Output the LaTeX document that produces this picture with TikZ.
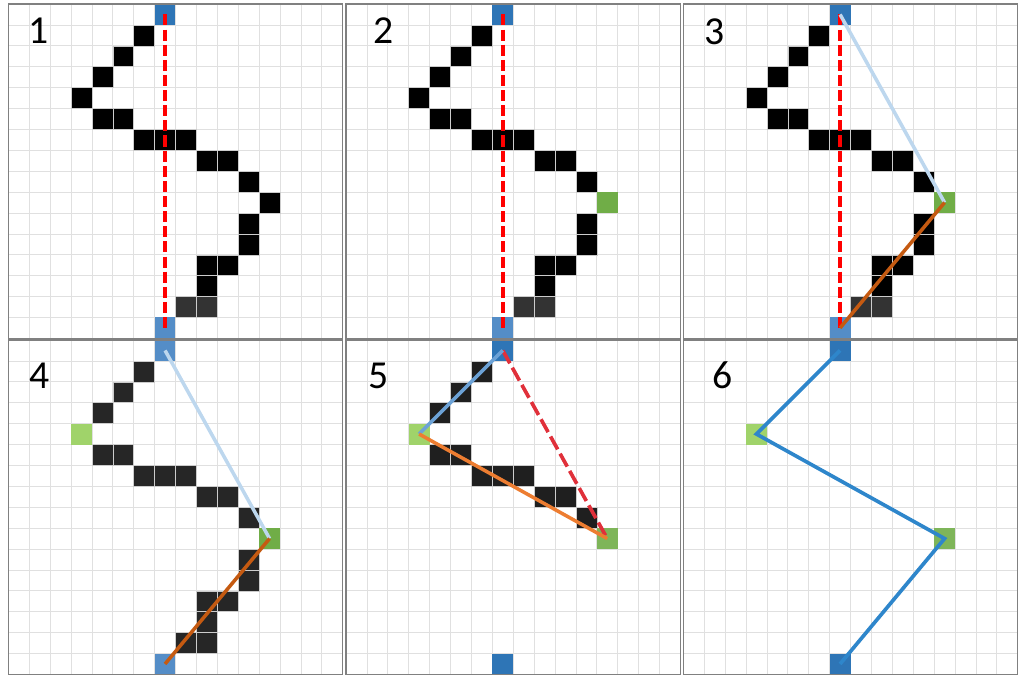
\documentclass[tikz,border=0pt]{standalone}
\usepackage{fontspec}
\setmainfont{Carlito}

\definecolor{cellblue}{RGB}{46,117,182}
\definecolor{cellbluelt}{RGB}{84,141,199}
\definecolor{cellgreen}{RGB}{112,173,71}
\definecolor{cellgreenlt}{RGB}{160,211,106}
\definecolor{gridgray}{RGB}{224,224,224}
\definecolor{framegray}{RGB}{128,128,128}
\definecolor{chordred}{RGB}{255,0,0}
\definecolor{chordred5}{RGB}{224,48,58}
\definecolor{paleblue}{RGB}{189,215,238}
\definecolor{brownseg}{RGB}{197,90,17}
\definecolor{midblue}{RGB}{108,162,214}
\definecolor{orangeseg}{RGB}{237,125,49}
\definecolor{pathblue}{RGB}{46,134,203}

% black cells of the contour, split at the two turning cells
\newcommand{\upperpart}{6/1,5/2,4/3,4/5,5/5,6/6,7/6,8/6,9/7,10/7,11/8}
\newcommand{\lowerpart}{11/10,11/11,9/12,10/12,9/13}
\newcommand{\panelgrid}{%
  \foreach \i in {1,...,15} {
    \draw[gridline] (\i,0) -- (\i,16);
    \draw[gridline] (0,\i) -- (16,\i);
  }%
}

\begin{document}
\begin{tikzpicture}[x=0.5cm, y=-0.5cm,
    cell/.style={rectangle, inner sep=0pt, minimum size=0.5cm, draw=gray!40, line width=0.3pt},
    blk/.style={cell, fill=black},
    dgray/.style={cell, fill=black!80},
    endpt/.style={cell, draw=none, fill=cellblue},
    keypt/.style={cell, draw=none, fill=cellgreen},
    newpt/.style={cell, draw=none, fill=cellgreenlt},
    gridline/.style={draw=gridgray, line width=0.45pt},
    panelbox/.style={draw=framegray, line width=0.7pt},
    chord/.style={draw=chordred, line width=2.5pt, dash pattern=on 7.5pt off 2.8pt},
    upseg/.style={draw=paleblue, line width=2.4pt},
    downseg/.style={draw=brownseg, line width=2.4pt},
    num/.style={font=\fontsize{27}{27}\selectfont, anchor=base, inner sep=0pt}
]
\useasboundingbox (0,0) rectangle (48.708,32.488);

% panel 1: start and end point, chord
\begin{scope}[shift={(0.397,0.191)}]
  \panelgrid
  \foreach \c/\r in \upperpart {\node[blk] (a\c-\r) at (\c+0.5,\r+0.5) {};}
  \foreach \c/\r in \lowerpart {\node[blk] (a\c-\r) at (\c+0.5,\r+0.5) {};}
  \node[blk] (a3-4) at (3.5,4.5) {};
  \node[blk] (a12-9) at (12.5,9.5) {};
  \node[dgray] (a8-14) at (8.5,14.5) {};
  \node[dgray] (a9-14) at (9.5,14.5) {};
  \node[endpt] (top1) at (7.5,0.5) {};
  \node[endpt, fill=cellbluelt] (bot1) at (7.5,15.5) {};
  \draw[chord] (top1.center) -- (bot1.center);
  \draw[panelbox] (0,0) rectangle (16,16);
  \node[num] (n1) at (1.45,1.87) {1};
\end{scope}

% panel 2: farthest cell from the chord
\begin{scope}[shift={(16.555,0.191)}]
  \panelgrid
  \foreach \c/\r in \upperpart {\node[blk] (b\c-\r) at (\c+0.5,\r+0.5) {};}
  \foreach \c/\r in \lowerpart {\node[blk] (b\c-\r) at (\c+0.5,\r+0.5) {};}
  \node[blk] (b3-4) at (3.5,4.5) {};
  \node[dgray] (b8-14) at (8.5,14.5) {};
  \node[dgray] (b9-14) at (9.5,14.5) {};
  \node[keypt] (g2) at (12.5,9.5) {};
  \node[endpt] (top2) at (7.5,0.5) {};
  \node[endpt, fill=cellbluelt] (bot2) at (7.5,15.5) {};
  \draw[chord] (top2.center) -- (bot2.center);
  \draw[panelbox] (0,0) rectangle (16,16);
  \node[num] (n2) at (1.8,1.87) {2};
\end{scope}

% panel 3: split into two segments
\begin{scope}[shift={(32.694,0.191)}]
  \panelgrid
  \foreach \c/\r in \upperpart {\node[blk] (c\c-\r) at (\c+0.5,\r+0.5) {};}
  \foreach \c/\r in \lowerpart {\node[blk] (c\c-\r) at (\c+0.5,\r+0.5) {};}
  \node[blk] (c3-4) at (3.5,4.5) {};
  \node[dgray] (c8-14) at (8.5,14.5) {};
  \node[dgray] (c9-14) at (9.5,14.5) {};
  \node[keypt] (g3) at (12.5,9.5) {};
  \node[endpt] (top3) at (7.5,0.5) {};
  \node[endpt, fill=cellbluelt] (bot3) at (7.5,15.5) {};
  \draw[chord] (top3.center) -- (bot3.center);
  \draw[upseg] (top3.center) -- (g3.center);
  \draw[downseg] (g3.center) -- (bot3.center);
  \draw[panelbox] (0,0) rectangle (16,16);
  \node[num] (n3) at (1.5,1.96) {3};
\end{scope}

% panel 4: second kept cell
\begin{scope}[shift={(0.397,16.268)}]
  \panelgrid
  \foreach \c/\r in \upperpart {\node[blk, fill=black!85] (d\c-\r) at (\c+0.5,\r+0.5) {};}
  \foreach \c/\r in \lowerpart {\node[blk, fill=black!85] (d\c-\r) at (\c+0.5,\r+0.5) {};}
  \node[dgray, fill=black!85] (d8-14) at (8.5,14.5) {};
  \node[dgray, fill=black!85] (d9-14) at (9.5,14.5) {};
  \node[newpt] (h4) at (3.5,4.5) {};
  \node[keypt] (g4) at (12.5,9.5) {};
  \node[endpt, fill=cellbluelt] (top4) at (7.5,0.5) {};
  \node[endpt, fill=cellbluelt] (bot4) at (7.5,15.5) {};
  \draw[upseg] (top4.center) -- (g4.center);
  \draw[downseg] (g4.center) -- (bot4.center);
  \draw[panelbox] (0,0) rectangle (16,16);
  \node[num] (n4) at (1.5,2.3) {4};
\end{scope}

% panel 5: recursion on the upper segment
\begin{scope}[shift={(16.555,16.268)}]
  \panelgrid
  \foreach \c/\r in \upperpart {\node[blk, fill=black!88] (e\c-\r) at (\c+0.5,\r+0.5) {};}
  \node[newpt] (h5) at (3.5,4.5) {};
  \node[keypt, fill=cellgreen!90!white] (g5) at (12.5,9.5) {};
  \node[endpt] (top5) at (7.5,0.5) {};
  \node[endpt] (bot5) at (7.5,15.5) {};
  \draw[chord, draw=chordred5, dash pattern=on 10pt off 3.4pt] (top5.center) -- (g5.center);
  \draw[draw=midblue, line width=2.4pt] (top5.center) -- (h5.center);
  \draw[draw=orangeseg, line width=2.4pt] (h5.center) -- (g5.center);
  \draw[panelbox] (0,0) rectangle (16,16);
  \node[num] (n5) at (1.55,2.3) {5};
\end{scope}

% panel 6: simplified polyline
\begin{scope}[shift={(32.694,16.268)}]
  \panelgrid
  \node[newpt] (h6) at (3.5,4.5) {};
  \node[keypt, fill=cellgreen!90!white] (g6) at (12.5,9.5) {};
  \node[endpt] (top6) at (7.5,0.5) {};
  \node[endpt] (bot6) at (7.5,15.5) {};
  \draw[draw=pathblue, line width=2.5pt] (top6.center) -- (h6.center) -- (g6.center) -- (bot6.center);
  \draw[panelbox] (0,0) rectangle (16,16);
  \node[num] (n6) at (1.9,2.3) {6};
\end{scope}

\end{tikzpicture}
\end{document}
